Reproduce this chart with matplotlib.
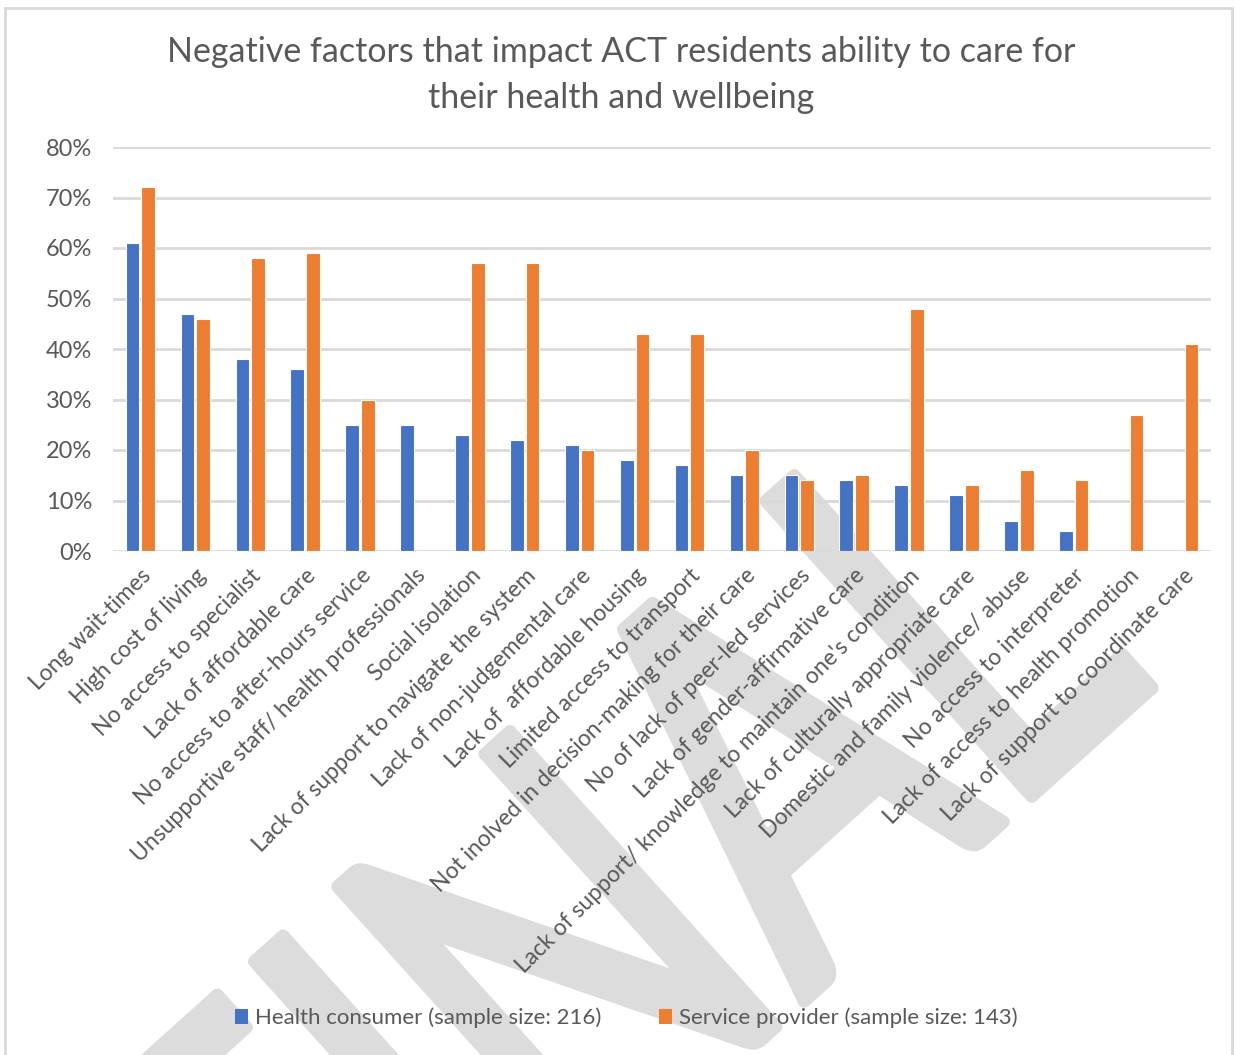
import numpy as np
import matplotlib
matplotlib.use("Agg")
import matplotlib.pyplot as plt
from matplotlib.patches import Patch, Rectangle, PathPatch
from matplotlib.textpath import TextPath
from matplotlib.font_manager import FontProperties
from matplotlib.transforms import Affine2D

plt.rcParams["font.family"] = ["Lato", "DejaVu Sans"]

# survey results, share of respondents per factor
factors = [
    "Long wait-times",
    "High cost of living",
    "No access to specialist",
    "Lack of affordable care",
    "No access to after-hours service",
    "Unsupportive staff/ health professionals",
    "Social isolation",
    "Lack of support to navigate the system",
    "Lack of non-judgemental care",
    "Lack of  affordable housing",
    "Limited access to transport",
    "Not inolved in decision-making for their care",
    "No of lack of peer-led services",
    "Lack of gender-affirmative care",
    "Lack of support/ knowledge to maintain one's condition",
    "Lack of culturally appropriate care",
    "Domestic and family violence/ abuse",
    "No access to interpreter",
    "Lack of access to health promotion",
    "Lack of support to coordinate care",
]
consumer = [0.61, 0.47, 0.38, 0.36, 0.25, 0.25, 0.23, 0.22, 0.21, 0.18,
            0.17, 0.15, 0.15, 0.14, 0.13, 0.11, 0.06, 0.04, 0.0, 0.0]
provider = [0.72, 0.46, 0.58, 0.59, 0.30, 0.0, 0.57, 0.57, 0.20, 0.43,
            0.43, 0.20, 0.14, 0.15, 0.48, 0.13, 0.16, 0.14, 0.27, 0.41]
consumer_label = "Health consumer (sample size: 216)"
provider_label = "Service provider (sample size: 143)"
title_lines = ["Negative factors that impact ACT residents ability to care for",
               "their health and wellbeing"]
yticks = [0, 0.1, 0.2, 0.3, 0.4, 0.5, 0.6, 0.7, 0.8]
watermark = "FINAL"

BLUE = "#4472C4"
ORANGE = "#ED7D31"
TEXT = "#595959"
GRID = "#D9D9D9"
WM = "#DCDCDC"

fig = plt.figure(figsize=(12.35, 10.55), dpi=100)
W, H = 1235, 1055

# chart border
fig.patches.append(Rectangle((5 / W, -0.01), (1232 - 5) / W, 1 - 8 / H + 0.01,
                             transform=fig.transFigure, fill=False,
                             edgecolor=GRID, linewidth=2, zorder=-2))

# squeezed, rotated watermark behind the plot (pixel units, y up)
wm_path = TextPath((0, 0), watermark, size=1, prop=FontProperties(family="Lato"))
wm_tr = (Affine2D().scale(400, 555).rotate_deg(42).translate(325, -378)
         .scale(1 / W, 1 / H) + fig.transFigure)
fig.patches.append(PathPatch(wm_path, transform=wm_tr, facecolor=WM,
                             edgecolor=WM, linewidth=9, joinstyle="round",
                             capstyle="round", zorder=-1))

ax = fig.add_axes([113 / W, 1 - 551 / H, (1211 - 113) / W, (551 - 147) / H])
ax.set_facecolor("none")

x = np.arange(len(factors))
bw = 0.25
off = 0.1425
ax.bar(x - off, consumer, bw, color=BLUE, edgecolor="white", linewidth=0.8, zorder=3)
ax.bar(x + off, provider, bw, color=ORANGE, edgecolor="white", linewidth=0.8, zorder=3)

ax.set_xlim(-0.5, len(factors) - 0.5)
ax.set_ylim(0, 0.8)
ax.set_yticks(yticks)
ax.set_yticklabels([f"{int(round(v * 100))}%" for v in yticks])
ax.yaxis.grid(True, color=GRID, linewidth=2, zorder=0)
ax.set_axisbelow(True)
for s in ax.spines.values():
    s.set_visible(False)
ax.tick_params(axis="both", length=0, labelcolor=TEXT)
ax.tick_params(axis="y", labelsize=17, pad=15)

ax.set_xticks(x)
ax.set_xticklabels(factors, rotation=45, ha="right", rotation_mode="anchor",
                   fontsize=16.5)
ax.tick_params(axis="x", pad=10)

for line, base in zip(title_lines, [62, 108]):
    fig.text(621 / W, 1 - base / H, line, ha="center", va="baseline",
             fontsize=24.5, color=TEXT)

handles = [Patch(facecolor=BLUE, label=consumer_label),
           Patch(facecolor=ORANGE, label=provider_label)]
fig.legend(handles=handles, loc="center", bbox_to_anchor=(626 / W, 1 - 1018 / H),
           ncol=2, frameon=False, fontsize=16, labelcolor=TEXT,
           handlelength=0.6, handleheight=0.6, handletextpad=0.3,
           columnspacing=2.6)

fig.savefig("out.png", dpi=100)
